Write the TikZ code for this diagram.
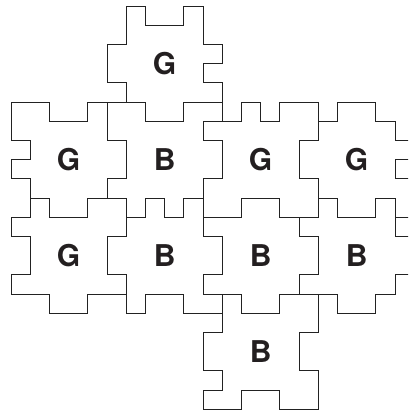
\documentclass[tikz,border=0pt]{standalone}
\usepackage{fontspec}
\setmainfont{TeX Gyre Heros}
\usetikzlibrary{positioning}
\definecolor{ptLine}{HTML}{222222}
\definecolor{ptText}{HTML}{231F20}
\tikzset{
  piece/.style={draw=ptLine, line width=0.9pt, line join=miter},
  tile/.style={font=\fontsize{30}{30}\selectfont\bfseries, text=ptText, inner sep=0pt}
}
\begin{document}
\begin{tikzpicture}[x=19.2pt, y=-19.2pt]
  \clip (-0.573,-0.3125) rectangle (20.677,21.25);
  % pieces, top to bottom
  \draw[piece] (6,0) -| (7,1) -| (9,0) -| (10,2) -| (11,3) -| (10,4) -| (11,5) -| (9,6) -| (7,5) -| (6,4) -| (5,2) -| (6,0) -- cycle;
  \draw[piece] (0,5) -| (2,6) -| (4,5) -| (5,7) -| (6,9) -| (5,10) -| (4,11) -| (2,10) -| (1,9) -| (0,8) -| (1,7) -| (0,5) -- cycle;
  \draw[piece] (5,5) -| (7,6) -| (9,5) -| (11,6) -| (10,7) -| (11,9) -| (10,10) -| (9,11) -| (8,10) -| (7,11) -| (6,10) -- (5,10) -- (5,9) -| (6,7) -| (5,5) -- cycle;
  \draw[piece] (11,6) -| (12,5) -| (13,6) -| (14,5) -| (16,7) -| (15,9) -| (16,11) -| (14,10) -| (12,11) -| (10,9) -| (11,7) -| (10,6) -- cycle;
  \draw[piece] (16,6) -| (17,5) -| (19,6) -| (20,7) -| (21,8) -| (20,9) -| (21,11) -| (20,10) -| (19,11) -| (17,10) -| (16,9) -| (15,7) -| (16,6) -- cycle;
  \draw[piece] (1,10) -| (2,11) -| (4,10) -| (6,12) -| (5,14) -| (6,15) -| (4,16) -| (2,15) -| (0,14) -| (1,12) -| (0,11) -| (1,10) -- cycle;
  \draw[piece] (6,11) -| (7,10) -| (8,11) -| (9,10) -| (10,12) -| (11,14) -| (10,15) -| (11,16) -| (9,15) -| (7,16) -| (6,14) -| (5,12) -| (6,11) -- cycle;
  \draw[piece] (10,11) -| (12,10) -| (14,11) -| (15,12) -| (16,14) -| (15,15) -| (14,16) -| (12,15) -| (10,14) -| (11,12) -| (10,11) -- cycle;
  \draw[piece] (16,10) -| (17,11) -| (19,10) -| (20,12) -| (21,14) -| (20,15) -| (19,16) -| (17,15) -- (15,15) |- (16,14) |- (15,12) |- (16,11) -- cycle;
  \draw[piece] (11,15) -| (12,16) -| (14,15) -| (16,17) -| (15,19) -| (16,21) -| (14,20) -| (12,21) -| (10,20) -| (11,19) -| (10,17) -| (11,15) -- cycle;
  % letters
  \foreach \x/\y/\name/\txt in {8/3/gTop/G,3/8/gLeft/G,8/8/bCentre/B,13/8/gMid/G,18/8/gRight/G,3/13/gLow/G,8/13/bLow/B,13/13/bMid/B,18/13/bRight/B,13/18/bBottom/B}{
    \node[tile] (\name) at (\x,\y) {\txt};
  }
\end{tikzpicture}
\end{document}
